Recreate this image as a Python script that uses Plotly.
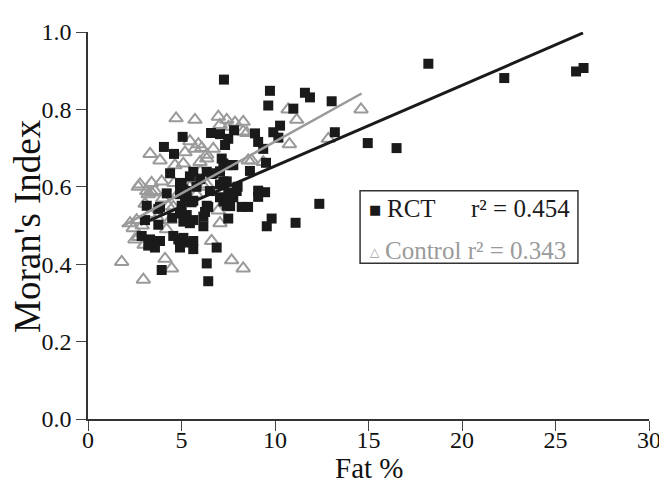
"""Moran's Index vs fat % — RCT and Control scatter with fitted lines."""

import plotly.graph_objects as go

FONT = "Liberation Serif, Times New Roman, serif"
INK = "#1a1a1a"
GREY = "#9a9a9a"

# RCT (black squares): fat %, Moran's index
rct_fat = [
    18.2, 22.26, 26.1, 26.5, 9.73, 9.64, 11.6, 11.87, 13.03, 10.98,
    10.27, 9.91, 10.18, 8.93, 9.1, 9.37, 9.52, 8.66, 13.2, 14.96,
    16.5, 9.1, 9.47, 9.1, 12.37, 7.27, 5.06, 4.06, 4.6, 6.58,
    7.06, 7.81, 7.5, 7.33, 7.15, 7.42, 7.77, 4.39, 5.63, 5.45,
    6.35, 6.61, 7.06, 5.01, 5.28, 4.92, 4.21, 7.06, 7.42, 7.06,
    7.5, 7.95, 3.14, 3.85, 5.63, 6.35, 7.24, 7.6, 4.92, 5.1,
    4.92, 5.19, 6.7, 7.24, 7.68, 7.24, 6.52, 7.77, 7.42, 7.42,
    3.76, 5.01, 4.92, 5.28, 5.54, 6.43, 6.26, 6.17, 8.22, 7.5,
    3.05, 3.76, 5.1, 5.45, 5.63, 6.17, 9.82, 9.56, 11.1, 2.87,
    3.32, 3.85, 3.22, 3.58, 4.56, 4.83, 5.1, 5.28, 5.63, 4.92,
    5.63, 6.88, 6.35, 3.94, 6.43, 8.56, 8.0, 6.0, 5.8, 4.5,
]
rct_moran = [
    0.918, 0.881, 0.898, 0.907, 0.848, 0.810, 0.843, 0.831, 0.821, 0.802,
    0.758, 0.741, 0.727, 0.738, 0.716, 0.698, 0.662, 0.641, 0.741, 0.713,
    0.700, 0.590, 0.586, 0.574, 0.556, 0.877, 0.729, 0.703, 0.685, 0.739,
    0.736, 0.746, 0.724, 0.708, 0.673, 0.656, 0.656, 0.635, 0.639, 0.627,
    0.639, 0.633, 0.640, 0.606, 0.589, 0.589, 0.583, 0.606, 0.614, 0.573,
    0.585, 0.589, 0.551, 0.548, 0.564, 0.551, 0.562, 0.550, 0.610, 0.593,
    0.581, 0.573, 0.635, 0.660, 0.656, 0.614, 0.589, 0.573, 0.564, 0.551,
    0.543, 0.551, 0.531, 0.527, 0.560, 0.548, 0.535, 0.523, 0.548, 0.518,
    0.514, 0.502, 0.510, 0.506, 0.514, 0.498, 0.518, 0.498, 0.507, 0.473,
    0.464, 0.460, 0.448, 0.443, 0.473, 0.464, 0.468, 0.456, 0.460, 0.443,
    0.439, 0.443, 0.402, 0.385, 0.356, 0.548, 0.600, 0.620, 0.600, 0.520,
]

# Control (grey open triangles)
ctl_fat = [
    14.6, 10.7, 11.16, 10.77, 12.85, 8.75, 9.37, 4.71, 5.72, 6.97,
    7.42, 7.86, 8.3, 7.06, 7.51, 8.3, 8.49, 5.45, 5.9, 5.72,
    6.08, 5.19, 6.35, 6.7, 3.32, 3.85, 4.65, 5.1, 5.99, 6.35,
    8.57, 2.78, 3.4, 3.94, 3.58, 3.22, 5.45, 6.35, 3.05, 2.69,
    3.14, 3.4, 2.25, 2.6, 2.42, 2.51, 4.56, 4.39, 6.97, 7.06,
    6.61, 4.12, 4.47, 1.8, 2.96, 7.68, 8.3, 4.0, 4.3, 3.7,
    2.9, 3.3, 4.8, 5.5, 6.0, 4.2, 3.0, 2.7, 5.8, 6.2,
    4.6,
]
ctl_moran = [
    0.800, 0.800, 0.773, 0.710, 0.724, 0.668, 0.664, 0.777, 0.773, 0.781,
    0.773, 0.766, 0.768, 0.760, 0.755, 0.743, 0.739, 0.718, 0.710, 0.698,
    0.700, 0.689, 0.683, 0.698, 0.685, 0.668, 0.656, 0.660, 0.664, 0.673,
    0.668, 0.606, 0.610, 0.614, 0.589, 0.581, 0.600, 0.606, 0.556, 0.600,
    0.589, 0.585, 0.506, 0.514, 0.493, 0.464, 0.548, 0.514, 0.539, 0.506,
    0.460, 0.414, 0.389, 0.406, 0.360, 0.410, 0.389, 0.570, 0.550, 0.520,
    0.500, 0.530, 0.580, 0.620, 0.640, 0.490, 0.450, 0.470, 0.580, 0.600,
    0.610,
]

# fitted lines, end points
rct_fit_x = [2.8, 26.47]
rct_fit_y = [0.503, 0.9975]
ctl_fit_x = [1.8, 14.63]
ctl_fit_y = [0.497, 0.841]

x_ticks = [0, 5, 10, 15, 20, 25, 30]
y_ticks = [0.0, 0.2, 0.4, 0.6, 0.8, 1.0]

fig = go.Figure()
fig.add_trace(go.Scatter(
    x=ctl_fat, y=ctl_moran, mode="markers", name="Control",
    marker=dict(symbol="triangle-up-open", size=12, color=GREY, line=dict(width=2, color=GREY)),
))
fig.add_trace(go.Scatter(
    x=rct_fat, y=rct_moran, mode="markers", name="RCT",
    marker=dict(symbol="square", size=10, color=INK, line=dict(width=0)),
))
fig.add_trace(go.Scatter(x=ctl_fit_x, y=ctl_fit_y, mode="lines", line=dict(color=GREY, width=2.5)))
fig.add_trace(go.Scatter(x=rct_fit_x, y=rct_fit_y, mode="lines", line=dict(color=INK, width=3), cliponaxis=False))

axis_common = dict(
    showline=True, linecolor="#333333", linewidth=1.5, showgrid=False, zeroline=False,
    ticks="outside", ticklen=10, tickwidth=1, tickcolor="#444444",
    tickfont=dict(family=FONT, size=24, color="#111111"),
    ticklabeloverflow="allow",
)
fig.update_xaxes(range=[0, 30], tickvals=x_ticks, ticktext=[str(v) for v in x_ticks],
                 ticklabelstandoff=-12, **axis_common)
fig.update_yaxes(range=[0, 1], tickvals=y_ticks, ticktext=[f"{v:.1f}" for v in y_ticks], **axis_common)

# legend box with r² values
fig.add_shape(type="rect", xref="x", yref="y", x0=14.55, x1=26.2, y0=0.4025, y1=0.59,
              line=dict(color="#333333", width=1.5), fillcolor="white", layer="above")
fig.add_annotation(x=15.35, y=0.541, xref="x", yref="y", text="■", showarrow=False,
                   xanchor="center", yanchor="middle",
                   font=dict(family="DejaVu Sans", size=13, color=INK))
fig.add_annotation(x=15.88, y=0.545, xref="x", yref="y", text="RCT", showarrow=False,
                   xanchor="left", yanchor="middle", font=dict(family=FONT, size=25, color=INK))
fig.add_annotation(x=25.88, y=0.545, xref="x", yref="y", text="r² = 0.454", showarrow=False,
                   xanchor="right", yanchor="middle", font=dict(family=FONT, size=25, color=INK))
fig.add_annotation(x=15.35, y=0.432, xref="x", yref="y", text="<b>△</b>", showarrow=False,
                   xanchor="center", yanchor="middle",
                   font=dict(family="DejaVu Sans", size=12, color=GREY))
fig.add_annotation(x=15.78, y=0.436, xref="x", yref="y", text="Control r² = 0.343", showarrow=False,
                   xanchor="left", yanchor="middle", font=dict(family=FONT, size=25, color=GREY))

# axis titles
fig.add_annotation(x=-0.108, y=0.5, xref="paper", yref="paper", text="Moran's Index", showarrow=False,
                   textangle=-90, xanchor="center", yanchor="middle",
                   font=dict(family=FONT, size=37, color="#111111"))
fig.add_annotation(x=0.5, y=-0.126, xref="paper", yref="paper", text="Fat %", showarrow=False,
                   xanchor="center", yanchor="middle",
                   font=dict(family=FONT, size=29, color="#111111"))

# the page body adds an 8px offset, so margins are shifted to keep the plot area in place
fig.update_layout(
    width=667, height=488,
    margin=dict(l=80, r=26, t=11, b=77),
    paper_bgcolor="white", plot_bgcolor="white",
    showlegend=False,
)
fig.write_html("out.html")
